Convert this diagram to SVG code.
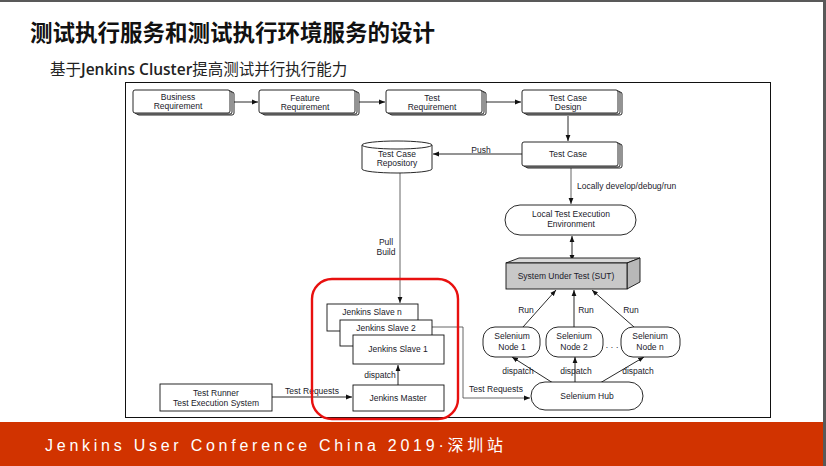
<svg xmlns="http://www.w3.org/2000/svg" width="826" height="466" viewBox="0 0 826 466">
<defs>
<marker id="ah" viewBox="0 0 10 10" refX="10" refY="5" markerWidth="6" markerHeight="6" orient="auto-start-reverse" markerUnits="userSpaceOnUse">
<path d="M0,1 L10,5 L0,9 z" fill="#111"/>
</marker>
<style>
.t{font-family:"Liberation Sans",Arial,sans-serif;font-size:8.5px;fill:#1a1a2a;text-anchor:middle}
.l{font-family:"Liberation Sans",Arial,sans-serif;font-size:8.5px;fill:#1a1a2a}
.b{fill:#fff;stroke:#111;stroke-width:0.9}
.c{fill:none;stroke:#111;stroke-width:0.9}
.g{fill:none;stroke:#555;stroke-width:0.9}
</style>
</defs>
<rect width="826" height="466" fill="#fff"/>
<rect x="0" y="0" width="826" height="2" fill="#595959"/>
<rect x="823" y="0" width="3" height="466" fill="#595959"/>
<rect x="0" y="422" width="823" height="44" fill="#d13300"/>
<text x="30" y="41" font-family="'Noto Sans CJK SC',sans-serif" font-weight="bold" font-size="22.5" fill="#111">测试执行服务和测试执行环境服务的设计</text>
<text x="50" y="75" font-family="'Noto Sans CJK SC',sans-serif" font-size="15.5" fill="#222">基于<tspan font-family="'Open Sans','Noto Sans',sans-serif" font-weight="600">Jenkins Cluster</tspan>提高测试并行执行能力</text>
<text x="45" y="451" font-family="'Liberation Sans','Noto Sans CJK SC',sans-serif" font-size="16" fill="#fff" textLength="458" lengthAdjust="spacing">Jenkins User Conference China 2019·深圳站</text>
<rect x="125.5" y="82.5" width="645" height="335" fill="none" stroke="#111" stroke-width="1"/>

<g id="connectors">
<line x1="232" y1="102" x2="258" y2="102" class="c" marker-end="url(#ah)"/>
<line x1="358" y1="102" x2="385" y2="102" class="c" marker-end="url(#ah)"/>
<line x1="484" y1="102" x2="521" y2="102" class="c" marker-end="url(#ah)"/>
<line x1="568" y1="116" x2="568" y2="141" class="c" marker-end="url(#ah)"/>
<line x1="522" y1="154" x2="433" y2="154" class="c" marker-end="url(#ah)"/>
<text x="481" y="153" class="t">Push</text>
<line x1="571" y1="168" x2="571" y2="204" class="g" marker-end="url(#ah)"/>
<text x="577" y="189" class="l">Locally develop/debug/run</text>
<line x1="572" y1="236" x2="572" y2="261" class="c" marker-start="url(#ah)" marker-end="url(#ah)"/>
<line x1="400" y1="173" x2="400" y2="303" class="g" marker-end="url(#ah)"/>
<text x="386" y="245" class="t">Pull</text>
<text x="386" y="255" class="t">Build</text>
<line x1="398" y1="385" x2="398" y2="365" class="c" marker-end="url(#ah)"/>
<text x="380" y="378" class="t">dispatch</text>
<line x1="272" y1="397" x2="352" y2="397" class="c" marker-end="url(#ah)"/>
<text x="312" y="394" class="t">Test Requests</text>
<polyline points="432,327 463,327 463,398 530,398" class="g" marker-end="url(#ah)"/>
<text x="496" y="392" class="t">Test Requests</text>
<line x1="523" y1="327" x2="556" y2="290" class="c" marker-end="url(#ah)"/>
<line x1="574" y1="327" x2="574" y2="290" class="c" marker-end="url(#ah)"/>
<line x1="634" y1="327" x2="592" y2="290" class="c" marker-end="url(#ah)"/>
<text x="526" y="313" class="t">Run</text>
<text x="586" y="313" class="t">Run</text>
<text x="631" y="313" class="t">Run</text>
<line x1="553" y1="383" x2="512" y2="357" class="c" marker-end="url(#ah)"/>
<line x1="575" y1="382" x2="575" y2="357" class="c" marker-end="url(#ah)"/>
<line x1="600" y1="383" x2="644" y2="357" class="c" marker-end="url(#ah)"/>
<text x="518" y="374" class="t">dispatch</text>
<text x="576" y="374" class="t">dispatch</text>
<text x="638" y="374" class="t">dispatch</text>
</g>

<g id="business">
<rect x="137" y="92" width="97" height="23" rx="2" class="b"/>
<rect x="135" y="91" width="97" height="23" rx="2" class="b"/>
<rect x="133" y="90" width="97" height="23" rx="2" class="b"/>
<text x="178" y="100" class="t">Business</text>
<text x="178" y="109" class="t">Requirement</text>
</g>
<g id="feature">
<rect x="263" y="92" width="96" height="23" rx="2" class="b"/>
<rect x="261" y="91" width="96" height="23" rx="2" class="b"/>
<rect x="259" y="90" width="96" height="23" rx="2" class="b"/>
<text x="305" y="101" class="t">Feature</text>
<text x="305" y="110" class="t">Requirement</text>
</g>
<g id="testreq">
<rect x="390" y="92" width="96" height="23" rx="2" class="b"/>
<rect x="388" y="91" width="96" height="23" rx="2" class="b"/>
<rect x="386" y="90" width="96" height="23" rx="2" class="b"/>
<text x="432" y="101" class="t">Test</text>
<text x="432" y="110" class="t">Requirement</text>
</g>
<g id="tcdesign">
<rect x="526" y="92" width="96" height="23" rx="2" class="b"/>
<rect x="524" y="91" width="96" height="23" rx="2" class="b"/>
<rect x="522" y="90" width="96" height="23" rx="2" class="b"/>
<text x="568" y="101" class="t">Test Case</text>
<text x="568" y="110" class="t">Design</text>
</g>
<g id="testcase">
<rect x="526" y="144" width="96" height="24" rx="2" class="b"/>
<rect x="524" y="143" width="96" height="24" rx="2" class="b"/>
<rect x="522" y="142" width="96" height="24" rx="2" class="b"/>
<text x="568" y="157" class="t">Test Case</text>
</g>
<g id="repository">
<path d="M362,145 L362,169 A35,4 0 0 0 432,169 L432,145" class="b"/>
<ellipse cx="397" cy="145" rx="35" ry="4" class="b"/>
<text x="397" y="157" class="t">Test Case</text>
<text x="397" y="166" class="t">Repository</text>
</g>
<g id="localenv">
<rect x="505" y="205" width="131" height="30" rx="15" class="b"/>
<text x="571" y="217" class="t">Local Test Execution</text>
<text x="571" y="227" class="t">Environment</text>
</g>
<g id="sut">
<polygon points="506,263 519,258 640,258 627,263" fill="#d8d8d8" stroke="#111" stroke-width="0.9"/>
<polygon points="627,263 640,258 640,282 627,289" fill="#b8b8b8" stroke="#111" stroke-width="0.9"/>
<rect x="506" y="263" width="121" height="26" fill="#c8c8c8" stroke="#111" stroke-width="0.9"/>
<text x="566" y="279" class="t">System Under Test (SUT)</text>
</g>
<g id="node1">
<rect x="483" y="327" width="57" height="30" rx="12" class="b"/>
<text x="512" y="339" class="t">Selenium</text>
<text x="512" y="350" class="t">Node 1</text>
</g>
<g id="node2">
<rect x="546" y="327" width="57" height="30" rx="12" class="b"/>
<text x="574" y="339" class="t">Selenium</text>
<text x="574" y="350" class="t">Node 2</text>
</g>
<text x="612" y="350" class="t">· · ·</text>
<g id="noden">
<rect x="621" y="327" width="59" height="30" rx="12" class="b"/>
<text x="650" y="339" class="t">Selenium</text>
<text x="650" y="350" class="t">Node n</text>
</g>
<g id="hub">
<rect x="531" y="382" width="112" height="28" rx="14" class="b"/>
<text x="587" y="399" class="t">Selenium Hub</text>
</g>
<g id="slaven">
<rect x="327" y="304" width="91" height="27" class="b"/>
<text x="372" y="315" class="t">Jenkins Slave n</text>
</g>
<g id="slave2">
<rect x="340" y="320" width="92" height="26" class="b"/>
<text x="386" y="331" class="t">Jenkins Slave 2</text>
</g>
<g id="slave1">
<rect x="353" y="335" width="91" height="29" class="b"/>
<text x="398" y="352" class="t">Jenkins Slave 1</text>
</g>
<g id="master">
<rect x="353" y="385" width="91" height="26" class="b"/>
<text x="398" y="401" class="t">Jenkins Master</text>
</g>
<g id="runner">
<rect x="160" y="384" width="112" height="27" class="b"/>
<text x="216" y="396" class="t">Test Runner</text>
<text x="216" y="406" class="t">Test Execution System</text>
</g>
<g id="highlight">
<rect x="312" y="279" width="146" height="140" rx="20" fill="none" stroke="#e8100f" stroke-width="2.4"/>
</g>
</svg>
